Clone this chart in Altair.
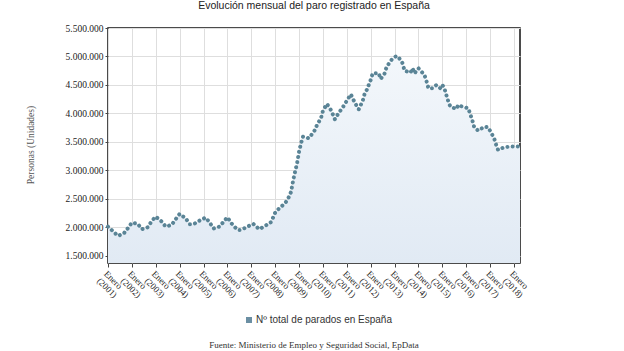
import altair as alt
import pandas as pd

title_text = "Evolución mensual del paro registrado en España"
series_name = "Nº total de parados en España"
source_text = "Fuente: Ministerio de Empleo y Seguridad Social, EpData"
y_title = "Personas (Unidades)"

dates = [
    "2001-01", "2001-04", "2001-06", "2001-09", "2001-11",
    "2002-01", "2002-04", "2002-06", "2002-09", "2002-11",
    "2003-01", "2003-04", "2003-06", "2003-09", "2003-11",
    "2004-01", "2004-04", "2004-06", "2004-08", "2004-11",
    "2005-02", "2005-04", "2005-06", "2005-09", "2005-11",
    "2006-01", "2006-03", "2006-06", "2006-08", "2006-11",
    "2007-02", "2007-05", "2007-08", "2007-11",
    "2008-01", "2008-03", "2008-06", "2008-08", "2008-09", "2008-10", "2008-11", "2008-12",
    "2009-01", "2009-02", "2009-03", "2009-06", "2009-09", "2009-10", "2009-12",
    "2010-01", "2010-03", "2010-05", "2010-07", "2010-09", "2010-11",
    "2011-01", "2011-03", "2011-05", "2011-07", "2011-09", "2011-10", "2011-11",
    "2012-01", "2012-02", "2012-05", "2012-06", "2012-08", "2012-09", "2012-12",
    "2013-02", "2013-03", "2013-05", "2013-06", "2013-09", "2013-10", "2013-11",
    "2014-01", "2014-04", "2014-05", "2014-06", "2014-08", "2014-10", "2014-12",
    "2015-01", "2015-02", "2015-03", "2015-04", "2015-05", "2015-08", "2015-09", "2015-11",
    "2016-02", "2016-04", "2016-05", "2016-07", "2016-10", "2016-12",
    "2017-03", "2017-04", "2017-05", "2017-08", "2017-11",
    "2018-02", "2018-04",
]
values = [
    2014000, 1916000, 1851000, 1898000, 1986000,
    2084000, 2061000, 1968000, 2003000, 2114000,
    2189000, 2102000, 2014000, 2044000, 2144000,
    2237000, 2161000, 2056000, 2056000, 2119000,
    2172000, 2091000, 1980000, 2014000, 2096000,
    2178000, 2073000, 1956000, 1956000, 2014000,
    2061000, 1968000, 2026000, 2096000,
    2260000, 2336000, 2424000, 2540000, 2628000, 2820000, 2979000, 3126000,
    3330000, 3477000, 3593000, 3565000, 3710000, 3798000, 3916000,
    4050000, 4167000, 4061000, 3898000, 4014000, 4108000,
    4225000, 4336000, 4190000, 4073000, 4225000, 4354000, 4412000,
    4588000, 4705000, 4705000, 4605000, 4705000, 4821000, 4968000,
    5009000, 4986000, 4880000, 4751000, 4716000, 4793000, 4705000,
    4793000, 4675000, 4570000, 4442000, 4442000, 4500000, 4442000,
    4500000, 4442000, 4325000, 4207000, 4120000, 4079000, 4149000, 4120000,
    4091000, 3886000, 3758000, 3698000, 3765000, 3758000,
    3565000, 3452000, 3360000, 3407000, 3418000,
    3418000, 3425000,
]

years = list(range(2001, 2019))
y_ticks = [1500000, 2000000, 2500000, 3000000, 3500000, 4000000, 4500000, 5000000, 5500000]
Y_MIN, Y_MAX = 1375000, 5500000


def month_index(d):
    y, m = d.split("-")
    return (int(y) - 2001) * 12 + int(m) - 1


df = pd.DataFrame({"m": [month_index(d) for d in dates], "v": values})
x_ticks = [(y - 2001) * 12 for y in years]
X_MAX = int(df["m"].max())

W, H = 412, 235

x_enc = alt.X(
    "m:Q",
    scale=alt.Scale(domain=[0, X_MAX], nice=False, zero=False),
    axis=alt.Axis(
        values=x_ticks,
        labelExpr="['Enero', '(' + (2001 + datum.value / 12) + ')']",
        labelAngle=45,
        labelAlign="left",
        labelBaseline="top",
        labelFont="Liberation Serif",
        labelFontSize=9,
        labelColor="#222222",
        labelPadding=2,
        labelLineHeight=10,
        labelOverlap=False,
        labelBound=False,
        labelFlush=False,
        tickSize=4,
        tickColor="#444444",
        grid=True,
        gridColor="#dedede",
        domain=False,
        title=None,
    ),
)
y_enc = alt.Y(
    "v:Q",
    scale=alt.Scale(domain=[Y_MIN, Y_MAX], nice=False, zero=False),
    axis=alt.Axis(
        values=y_ticks,
        labelExpr="floor(datum.value / 1000000) + '.' + format((datum.value % 1000000) / 1000, '03d') + '.000'",
        labelFont="Liberation Serif",
        labelFontSize=9.5,
        labelColor="#222222",
        labelPadding=2,
        tickSize=3,
        tickColor="#444444",
        grid=True,
        gridColor="#dedede",
        domain=False,
        title=y_title,
        titleFont="Liberation Serif",
        titleFontSize=9.5,
        titleFontWeight="normal",
        titleColor="#555555",
        titleX=-78,
        titleY=H / 2 - 1,
        titleAlign="center",
        titleBaseline="middle",
    ),
)

gradient = alt.Gradient(
    gradient="linear",
    stops=[
        alt.GradientStop(color="#f3f7fb", offset=0),
        alt.GradientStop(color="#e1eaf4", offset=1),
    ],
    x1=1, x2=1, y1=0, y2=1,
)

base = alt.Chart(df)
area = base.mark_area(color=gradient).encode(x=x_enc, y=y_enc, y2=alt.datum(Y_MIN))
line = base.mark_line(
    color="#5a8496", strokeWidth=4, strokeDash=[0.01, 5.2], strokeCap="round"
).encode(x=x_enc, y=y_enc)

title_df = pd.DataFrame({"t": [title_text]})
title = alt.Chart(title_df).mark_text(
    font="Liberation Sans", fontSize=10.5, color="#222222", align="center", baseline="middle"
).encode(text="t:N", x=alt.value(W / 2), y=alt.value(-22))

legend_df = pd.DataFrame({"t": [series_name]})
legend_sq = alt.Chart(legend_df).mark_square(size=36, color="#6b8fa3", opacity=1).encode(
    x=alt.value(141), y=alt.value(292)
)
legend_txt = alt.Chart(legend_df).mark_text(
    font="Liberation Sans", fontSize=10, color="#333333", align="left", baseline="middle"
).encode(text="t:N", x=alt.value(148), y=alt.value(292))

source_df = pd.DataFrame({"t": [source_text]})
source = alt.Chart(source_df).mark_text(
    font="Liberation Serif", fontSize=9, color="#333333", align="center", baseline="bottom"
).encode(text="t:N", x=alt.value(W / 2), y=alt.value(322))

chart = alt.layer(area, line, title, legend_sq, legend_txt, source).properties(
    width=W,
    height=H,
    padding={"left": 108, "top": 28, "right": 104, "bottom": 88},
    autosize=alt.AutoSizeParams(type="none"),
).configure_view(stroke="#111111", strokeWidth=1.5)

chart.save("out.html", embed_options={"renderer": "svg", "actions": False})
